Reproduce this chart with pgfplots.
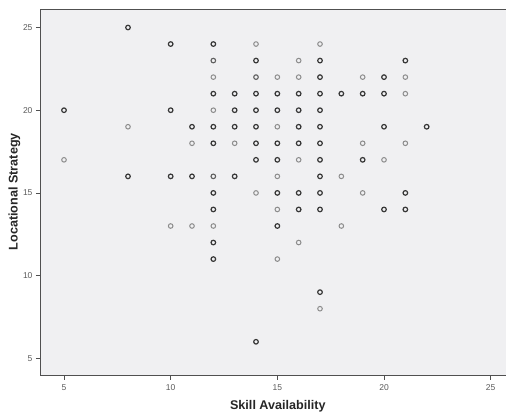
\documentclass[border=0pt]{standalone}
\usepackage{fontspec}
\setmainfont{Liberation Sans}
\usepackage{pgfplots}
\pgfplotsset{compat=1.18}
\definecolor{bg}{RGB}{240,240,242}
\definecolor{axgray}{RGB}{80,80,80}
\definecolor{tickgray}{RGB}{90,90,90}
\definecolor{ptdark}{RGB}{55,55,55}
\definecolor{ptmid}{RGB}{95,95,95}
\definecolor{ptlight}{RGB}{140,140,140}
\begin{document}
\begin{tikzpicture}[x=1pt,y=1pt]
\useasboundingbox (-40,-37.3) rectangle (466,375.7);
\clip (-40,-37.3) rectangle (466,375.7);
\begin{axis}[
  at={(0,0)}, anchor=south west,
  width=470pt, height=366.4pt, scale only axis,
  xmin=3.875, xmax=25.906, ymin=3.95, ymax=26.1,
  axis background/.style={fill=bg},
  axis line style={draw=axgray, line width=1pt},
  xtick={5,10,15,20,25}, ytick={5,10,15,20,25},
  xtick pos=left, ytick pos=left,
  tick align=outside, major tick length=4pt,
  tick style={draw=axgray, line width=0.8pt},
  /pgf/number format/assume math mode=true,
  tick label style={font=\fontsize{8.5}{10}\selectfont, text=tickgray},
  xticklabel style={yshift=-1pt},
  xlabel={Skill Availability},
  xlabel style={at={(axis description cs:0.506,0)}, anchor=north, yshift=-24.3pt, inner sep=0pt, font=\fontsize{12.6}{14}\selectfont\bfseries, text=black!85},
  clip=false,
]
% dark (overlapping) points
\addplot[only marks, mark=o, mark size=2.3pt, line width=1.2pt, color=ptdark] coordinates {
(5,20) (8,25) (8,16) (10,24) (10,20) (10,16) (11,19) (11,16)
(12,24) (12,21) (12,19) (12,18) (12,15) (12,14) (12,12) (12,11)
(13,21) (13,20) (13,19) (13,16)
(14,23) (14,21) (14,20) (14,19) (14,18) (14,17) (14,6)
(15,21) (15,20) (15,18) (15,17) (15,15) (15,13)
(16,21) (16,20) (16,19) (16,18) (16,15) (16,14)
(17,23) (17,22) (17,21) (17,20) (17,19) (17,18) (17,17) (17,16) (17,15) (17,14) (17,9)
(18,21) (19,21) (19,17) (20,22) (20,21) (20,19) (20,14)
(21,23) (21,15) (21,14) (22,19)
};
% medium points
\addplot[only marks, mark=o, mark size=2.3pt, line width=1.1pt, color=ptmid] coordinates {
(12,16) (14,22) (12,23)
};
% light (single) points
\addplot[only marks, mark=o, mark size=2.3pt, line width=1pt, color=ptlight] coordinates {
(5,17) (8,19) (10,13) (11,18) (11,13)
(12,22) (12,20) (12,13) (13,18)
(14,24) (14,15)
(15,22) (15,19) (15,16) (15,14) (15,11)
(16,23) (16,22) (16,17) (16,12)
(17,24) (17,8)
(18,16) (18,13) (19,22) (19,18) (19,15) (20,17)
(21,22) (21,21) (21,18)
};
\end{axis}
\node[rotate=90, anchor=north, inner sep=0pt, font=\fontsize{12.6}{14}\selectfont\bfseries, text=black!85] at (-31.8,184) {Locational Strategy};
\end{tikzpicture}
\end{document}
